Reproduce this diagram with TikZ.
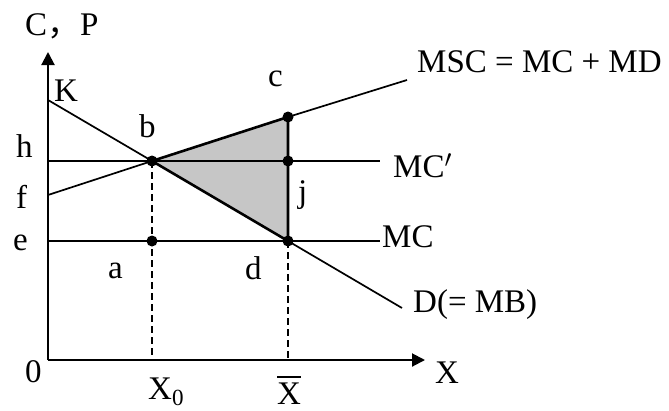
\documentclass[tikz,border=0pt]{standalone}
\usepackage{fontspec}
\setmainfont{Liberation Serif}
\newfontfamily\cjk{Noto Sans CJK SC}
\usetikzlibrary{positioning, arrows.meta}
\tikzset{
    axis/.style={line width=2pt, -{Triangle[length=13pt,width=13pt]}},
    curve/.style={line width=1.7pt},
    edge/.style={line width=2.6pt},
    guide/.style={line width=1.7pt, dash pattern=on 7pt off 4pt},
    dot/.style={fill=black},
    lbl/.style={inner sep=0pt, anchor=base west, font=\fontsize{33}{38}\selectfont},
}

\begin{document}
\begin{tikzpicture}[x=1pt, y=-1pt]
    \useasboundingbox (0,0) rectangle (669,410);
    % Punti principali
    \coordinate (O) at (48,360);
    \coordinate (Ytop) at (48,52);
    \coordinate (Xend) at (425,360);
    \coordinate (K) at (48,100);
    \coordinate (F) at (48,195);
    \coordinate (H) at (48,161);
    \coordinate (E) at (48,241);
    \coordinate (b) at (152,161);
    \coordinate (c) at (288,117);
    \coordinate (j) at (288,161);
    \coordinate (d) at (288,241);
    \coordinate (a) at (152,241);
    \coordinate (X0) at (152,360);
    \coordinate (Xbar) at (288,360);
    \coordinate (MSCend) at (407,80);
    \coordinate (MCpend) at (380,161);
    \coordinate (MCend) at (380,241);
    \coordinate (Dend) at (402,308);

    % Triangolo della perdita
    \fill[gray!45] (b) -- (c) -- (d) -- cycle;

    % Assi
    \draw[axis] (O) -- (Ytop);
    \draw[axis] (O) -- (Xend);

    % Curve
    \draw[curve] (F) -- (b);
    \draw[curve] (c) -- (MSCend);
    \draw[curve] (K) -- (b);
    \draw[curve] (d) -- (Dend);
    \draw[curve] (H) -- (MCpend);
    \draw[curve] (E) -- (MCend);
    \draw[edge] (b) -- (c) -- (d) -- cycle;

    % Tratteggi
    \draw[guide] (b) -- (X0);
    \draw[guide] (d) -- (Xbar);

    % Punti
    \foreach \p in {b,c,j,d,a} \fill[dot] (\p) circle (5.5pt);

    % Etichette
    \node[lbl] (lCP) at (25,35) {C{\cjk ，}P};
    \node[lbl] (lK) at (54,101) {K};
    \node[lbl] (lb) at (139,137) {b};
    \node[lbl] (lh) at (16,157) {h};
    \node[lbl] (lf) at (16,208) {f};
    \node[lbl] (le) at (13,250) {e};
    \node[lbl] (la) at (108,278) {a};
    \node[lbl] (ld) at (245,279) {d};
    \node[lbl] (lc) at (268,86) {c};
    \node[lbl] (lj) at (298,202) {j};
    \node[lbl] (l0) at (25,382) {0};
    \node[lbl] (lX0) at (148,399) {X\textsubscript{0}};
    \node[lbl] (lXbar) at (277,404) {X};
    \draw[line width=1.4pt] ([yshift=5pt]lXbar.north west) -- ([yshift=5pt]lXbar.north east);
    \node[lbl] (lX) at (435,383) {X};
    \node[lbl] (lMSC) at (417,72) {MSC = MC + MD};
    \node[lbl] (lMCp) at (393,177) {MC$^{\prime}$};
    \node[lbl] (lMC) at (382,247) {MC};
    \node[lbl] (lD) at (413,312) {D(= MB)};
\end{tikzpicture}
\end{document}
